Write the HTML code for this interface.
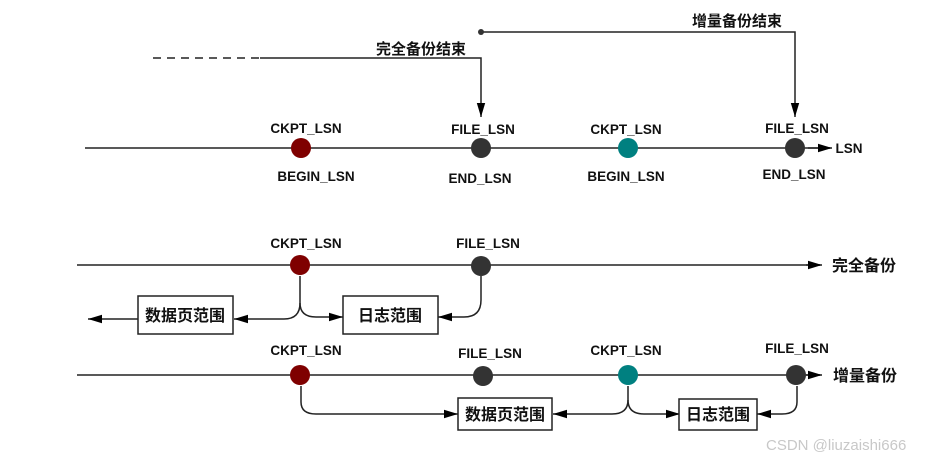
<!DOCTYPE html>
<html><head><meta charset="utf-8"><style>
html,body{margin:0;padding:0;background:#fff;}
svg{display:block;}
text{font-family:"Liberation Sans","Noto Sans CJK SC",sans-serif;font-weight:bold;fill:#111;}
</style></head><body>
<svg width="930" height="460" viewBox="0 0 930 460" xmlns="http://www.w3.org/2000/svg">
<defs>
<marker id="b" viewBox="0 0 10 10" refX="10" refY="5" markerWidth="14" markerHeight="14" markerUnits="userSpaceOnUse" orient="auto"><path d="M0,2 L10,5 L0,8 z" fill="#000"/></marker>
</defs>
<g stroke="#222" stroke-width="1.5" fill="none">
<line x1="153" y1="58" x2="260" y2="58" stroke-dasharray="8,6"/>
<polyline points="260,58 481,58 481,117" marker-end="url(#b)"/>
<polyline points="481,32 795,32 795,117" marker-end="url(#b)"/>
<line x1="85" y1="148" x2="830" y2="148"/>
<line x1="808" y1="148" x2="832" y2="148" marker-end="url(#b)"/>
<line x1="77" y1="265" x2="820" y2="265"/>
<line x1="806" y1="265" x2="822" y2="265" marker-end="url(#b)"/>
<line x1="138" y1="319" x2="88" y2="319" marker-end="url(#b)"/>
<path d="M300,276 V303 Q300,319 284,319 H234" marker-end="url(#b)"/>
<path d="M300,303 Q300,317 316,317 H343" marker-end="url(#b)"/>
<path d="M481,276 V300 Q481,317 464,317 H438" marker-end="url(#b)"/>
<rect x="138" y="296" width="95" height="38" fill="#fff"/>
<rect x="343" y="296" width="95" height="38" fill="#fff"/>
<line x1="77" y1="375" x2="820" y2="375"/>
<line x1="806" y1="375" x2="822" y2="375" marker-end="url(#b)"/>
<path d="M301,386 V402 Q301,414 316,414 H458" marker-end="url(#b)"/>
<path d="M628,386 V400 Q628,414 612,414 H553" marker-end="url(#b)"/>
<path d="M628,400 Q628,414 644,414 H680" marker-end="url(#b)"/>
<path d="M797,386 V402 Q797,414 782,414 H757" marker-end="url(#b)"/>
<rect x="458" y="398" width="94" height="32" fill="#fff"/>
<rect x="679" y="399" width="78" height="31" fill="#fff"/>
</g>
<circle cx="481" cy="32" r="3" fill="#333"/>
<circle cx="301" cy="148" r="10" fill="#7f0000"/>
<circle cx="481" cy="148" r="10" fill="#333"/>
<circle cx="628" cy="148" r="10" fill="#008080"/>
<circle cx="795" cy="148" r="10" fill="#333"/>
<circle cx="300" cy="265" r="10" fill="#7f0000"/>
<circle cx="481" cy="266" r="10" fill="#333"/>
<circle cx="300" cy="375" r="10" fill="#7f0000"/>
<circle cx="483" cy="376" r="10" fill="#333"/>
<circle cx="628" cy="375" r="10" fill="#008080"/>
<circle cx="796" cy="375" r="10" fill="#333"/>
<g font-size="13.5" text-anchor="middle">
<text x="376" y="54" font-size="15" text-anchor="start">完全备份结束</text>
<text x="692" y="26" font-size="15" text-anchor="start">增量备份结束</text>
<text x="306" y="133">CKPT_LSN</text>
<text x="316" y="181">BEGIN_LSN</text>
<text x="483" y="134">FILE_LSN</text>
<text x="480" y="183">END_LSN</text>
<text x="626" y="134">CKPT_LSN</text>
<text x="626" y="181">BEGIN_LSN</text>
<text x="797" y="133">FILE_LSN</text>
<text x="794" y="179">END_LSN</text>
<text x="849" y="153">LSN</text>
<text x="306" y="248">CKPT_LSN</text>
<text x="488" y="248">FILE_LSN</text>
<text x="306" y="355">CKPT_LSN</text>
<text x="490" y="358">FILE_LSN</text>
<text x="626" y="355">CKPT_LSN</text>
<text x="797" y="353">FILE_LSN</text>
</g>
<g font-size="16">
<text x="832" y="271">完全备份</text>
<text x="833" y="381">增量备份</text>
<text x="185" y="321" text-anchor="middle">数据页范围</text>
<text x="390" y="321" text-anchor="middle">日志范围</text>
<text x="505" y="420" text-anchor="middle">数据页范围</text>
<text x="718" y="420" text-anchor="middle">日志范围</text>
</g>
<text x="766" y="450" font-size="15" style="font-weight:normal;fill:#c8c8c8">CSDN @liuzaishi666</text>
</svg>
</body></html>
